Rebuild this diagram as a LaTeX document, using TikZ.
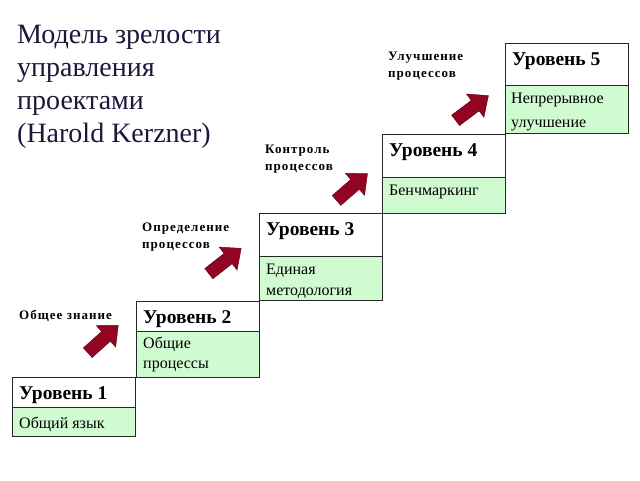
\documentclass[tikz,border=0pt]{standalone}
\usepackage{fontspec}
\setmainfont{Liberation Serif}
\newfontfamily\lblfont[LetterSpace=8]{Liberation Serif}
\definecolor{bodygreen}{RGB}{208,250,208}
\definecolor{arrowred}{RGB}{145,5,35}
\definecolor{titleblue}{RGB}{25,25,60}
\tikzset{
  boxhdr/.style={draw=black!85, line width=0.8pt, fill=white, anchor=north west, inner sep=0pt, minimum width=123pt},
  boxbdy/.style={draw=black!85, line width=0.8pt, fill=bodygreen, anchor=north west, inner sep=0pt, minimum width=123pt},
  hdrtext/.style={anchor=base west, inner sep=0pt, font=\fontsize{19.5}{22}\selectfont\bfseries},
  bdytext/.style={anchor=north west, inner sep=0pt, align=left},
  lbl/.style={anchor=north west, align=left, inner sep=0pt, font=\lblfont\fontsize{13}{17}\selectfont\bfseries},
  blk/.style={fill=arrowred, draw=arrowred!75!black, line width=0.5pt, line join=miter}
}
\newcommand\blockarrow[3]{% centre x, centre y, angle
  \begin{scope}[shift={(#1,#2)}, rotate=#3]
    \path[blk] (-20.5,-6.5) -- (4,-6.5) -- (4,-14.5) -- (20.5,0) -- (4,14.5) -- (4,6.5) -- (-20.5,6.5) -- cycle;
  \end{scope}}
\newcommand\levbox[6]{%
  % #1 name, #2 x, #3 ytop, #4 header h, #5 body h, #6 header text
  \node[boxhdr, minimum height=#4pt] (#1h) at (#2,#3) {};
  \node[hdrtext] (#1ht) at (#2+7,#3+22) {#6};
  \node[boxbdy, minimum height=#5pt] (#1b) at (#2,#3+#4) {};
}
\begin{document}
\begin{tikzpicture}[x=1pt,y=-1pt]
\useasboundingbox[fill=white] (0,0) rectangle (640,480);
% title
\node[anchor=north west, align=left, inner sep=0pt, text=titleblue,
  font=\fontsize{28}{33}\selectfont] (title) at (17,20)
  {\strut Модель зрелости\\управления\\проектами\\(Harold Kerzner)};
% level boxes
\levbox{l1}{12}{377}{30}{29}{Уровень 1}
\levbox{l2}{136}{301}{30}{46}{Уровень 2}
\levbox{l3}{259}{213}{43}{44}{Уровень 3}
\levbox{l4}{382}{134}{43}{36}{Уровень 4}
\levbox{l5}{505}{43}{42}{48}{Уровень 5}
% body texts
\node[bdytext, font=\fontsize{16}{20}\selectfont] (l1bt) at (19,414) {\strut Общий язык};
\node[bdytext, font=\fontsize{16}{20}\selectfont] (l2bt) at (143,334) {\strut Общие\\процессы};
\node[bdytext, font=\fontsize{16}{21}\selectfont] (l3bt) at (266,260) {\strut Единая\\методология};
\node[bdytext, font=\fontsize{16}{20}\selectfont] (l4bt) at (389,181) {\strut Бенчмаркинг};
\node[bdytext, font=\fontsize{16}{24}\selectfont] (l5bt) at (511,86) {\strut Непрерывное\\улучшение};
% labels
\node[lbl] (t1) at (19,307) {\strut Общее знание};
\node[lbl] (t2) at (142,219) {\strut Определение\\процессов};
\node[lbl] (t3) at (265,141) {\strut Контроль\\процессов};
\node[lbl] (t4) at (388,48) {\strut Улучшение\\процессов};
% arrows
\blockarrow{103}{339}{42}
\blockarrow{225}{261}{38}
\blockarrow{352}{187}{41}
\blockarrow{472}{108}{37}
\end{tikzpicture}
\end{document}
